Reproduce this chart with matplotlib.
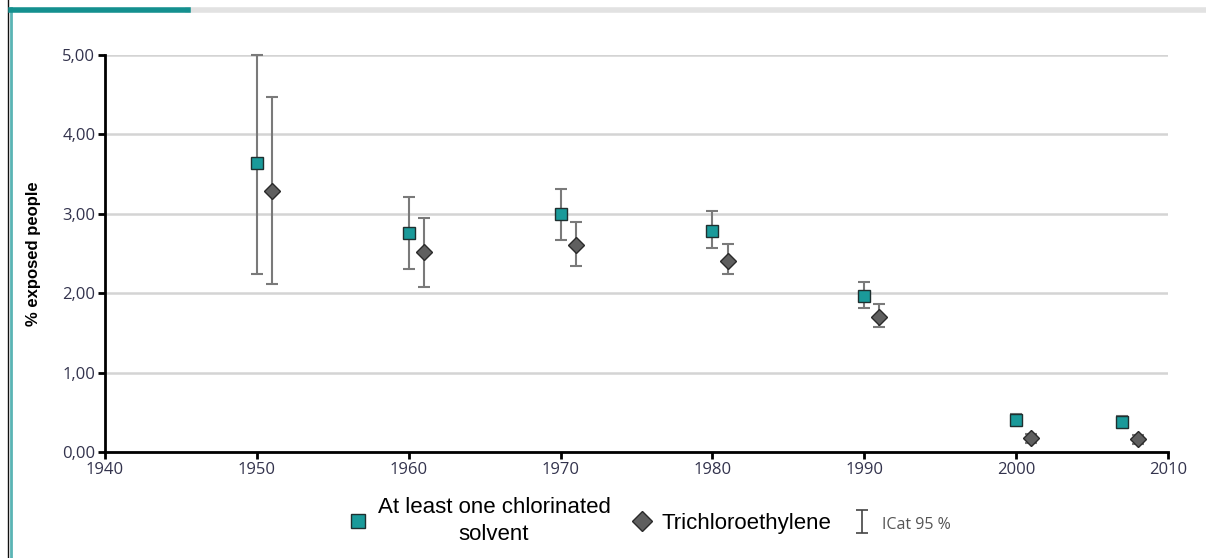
import numpy as np
import matplotlib
matplotlib.use("Agg")
import matplotlib.pyplot as plt
from matplotlib.lines import Line2D
from matplotlib.ticker import FuncFormatter


# Data
years_solvent = [1950, 1960, 1970, 1980, 1990, 2000, 2007]
solvent = [3.64, 2.76, 3.00, 2.78, 1.97, 0.40, 0.38]
solvent_low = [2.24, 2.30, 2.67, 2.57, 1.81, 0.33, 0.30]
solvent_high = [5.00, 3.21, 3.31, 3.04, 2.14, 0.48, 0.45]

years_tce = [1951, 1961, 1971, 1981, 1991, 2001, 2008]
tce = [3.29, 2.52, 2.61, 2.41, 1.70, 0.18, 0.16]
tce_low = [2.12, 2.08, 2.34, 2.24, 1.57, 0.11, 0.10]
tce_high = [4.47, 2.95, 2.90, 2.62, 1.86, 0.23, 0.22]

labels = ["At least one chlorinated\nsolvent", "Trichloroethylene", "ICat 95 %"]

teal = "#1a9a9a"
grey_marker = "#5f5f5f"
bar_col = "#7a7a7a"
tick_col = "#33334d"

fig = plt.figure(figsize=(12.06, 5.58), dpi=100)
ax = fig.add_axes([0.0871, 0.19, 0.8814, 0.7114])

# Error bars
s_err = [np.array(solvent) - np.array(solvent_low),
         np.array(solvent_high) - np.array(solvent)]
t_err = [np.array(tce) - np.array(tce_low),
         np.array(tce_high) - np.array(tce)]

ax.errorbar(years_solvent, solvent, yerr=s_err, fmt="none",
            ecolor=bar_col, elinewidth=1.5, capsize=4.5, capthick=1.5,
            zorder=3, clip_on=False)
ax.errorbar(years_tce, tce, yerr=t_err, fmt="none",
            ecolor=bar_col, elinewidth=1.5, capsize=4.5, capthick=1.5,
            zorder=3, clip_on=False)

h1, = ax.plot(years_solvent, solvent, linestyle="none", marker="s",
              markersize=9, markerfacecolor=teal, markeredgecolor="#1f2f2f",
              markeredgewidth=1.0, zorder=4, clip_on=False)
h2, = ax.plot(years_tce, tce, linestyle="none", marker="D",
              markersize=8.5, markerfacecolor=grey_marker,
              markeredgecolor="#2a2a2a", markeredgewidth=1.0, zorder=4,
              clip_on=False)
# dummy handle for the confidence interval legend entry
h3 = ax.errorbar([np.nan], [np.nan], yerr=[[np.nan], [np.nan]], fmt="none",
                 ecolor="#444444", elinewidth=1.2, capsize=4, capthick=1.2)

# Axes styling
ax.set_xlim(1940, 2010)
ax.set_ylim(0, 5)
ax.set_xticks(np.arange(1940, 2011, 10))
ax.set_yticks(np.arange(0, 5.01, 1))
ax.yaxis.set_major_formatter(FuncFormatter(lambda v, p: f"{v:.2f}".replace(".", ",")))

ax.grid(axis="y", color="#d4d4d4", linewidth=1.8, zorder=0)
ax.set_axisbelow(True)

for side in ["top", "right"]:
    ax.spines[side].set_visible(False)
for side in ["left", "bottom"]:
    ax.spines[side].set_linewidth(2)
    ax.spines[side].set_color("black")

ax.tick_params(axis="both", colors="black", width=2, length=5,
               labelcolor=tick_col, labelsize=12)
for lab in ax.get_xticklabels() + ax.get_yticklabels():
    lab.set_fontfamily("Open Sans")
ax.tick_params(axis="x", pad=2)
ax.tick_params(axis="y", pad=2)

ax.set_ylabel("% exposed people", fontsize=12, family="Liberation Sans",
              fontweight="semibold", labelpad=15)

# Legend
leg = fig.legend([h1, h2, h3], labels, loc="center",
                 bbox_to_anchor=(0.538, 0.066), ncol=3, frameon=False,
                 handlelength=1.0, handletextpad=0.4, markerscale=1.15,
                 columnspacing=0.9, prop={"family": "Liberation Sans", "size": 16})
txts = leg.get_texts()
txts[0].set_multialignment("center")
txts[0].set_linespacing(1.35)
txts[2].set_fontsize(11.5)
txts[2].set_color("#555555")
txts[2].set_fontfamily("Open Sans")

# Frame decoration
fig.add_artist(Line2D([0.0063, 0.0063], [0, 1], transform=fig.transFigure,
                      color="#111111", linewidth=1.0))
fig.add_artist(Line2D([0.009, 0.009], [0, 0.985], transform=fig.transFigure,
                      color="#5ab4b4", linewidth=2.0))
fig.add_artist(Line2D([0.156, 1.0], [0.982, 0.982], transform=fig.transFigure,
                      color="#e2e2e2", linewidth=4.0))
fig.add_artist(Line2D([0.009, 0.156], [0.982, 0.982], transform=fig.transFigure,
                      color="#14908f", linewidth=4.0))

fig.savefig("out.png", dpi=100)
